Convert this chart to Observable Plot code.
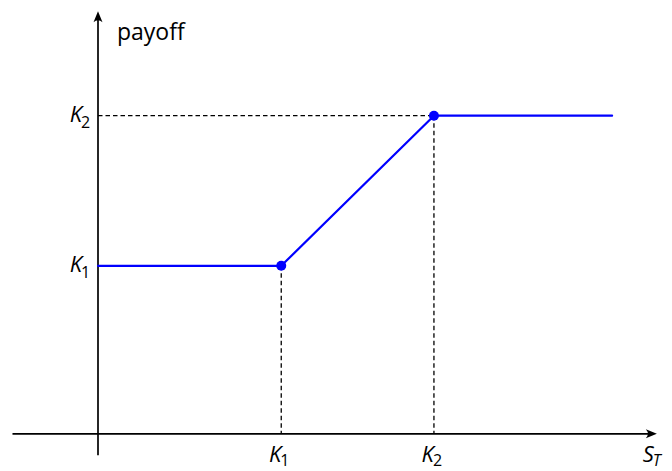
<!DOCTYPE html>
<html>
<head>
<meta charset="utf-8">
<script src="https://cdn.jsdelivr.net/npm/d3@7"></script>
<script src="https://cdn.jsdelivr.net/npm/@observablehq/plot@0.6"></script>
<style>
  html, body { margin: 0; padding: 0; background: #fff; }
</style>
</head>
<body>
<div id="chart"></div>
<script>
// ---- data ----
const sValues = [0, 36, 66, 101];          // underlying price S_T
const payoffValues = [33, 33, 62.5, 62.5]; // payoff
const strikeS = [36, 66];                  // kink positions on S_T axis
const strikePayoff = [33, 62.5];           // payoff at kinks
const strikeLabels = ["K", "K"];
const strikeSubs = ["1", "2"];
const xAxisExtent = [-16.8, 109.6];
const yAxisExtent = [-4.2, 82.8];
const xAxisLabel = ["S", "T"];
const yAxisLabel = "payoff";

const FONT = "Open Sans";
const payoffLine = sValues.map((s, i) => ({s, p: payoffValues[i]}));
const kinks = strikeS.map((s, i) => ({s, p: strikePayoff[i], k: strikeLabels[i], sub: strikeSubs[i]}));

// stealth-like filled arrow head pointing to +x, tip at origin
const arrowHead = {
  draw(ctx) {
    ctx.moveTo(1, 0);
    ctx.lineTo(-10, -4.5);
    ctx.quadraticCurveTo(-6, 0, -10, 4.5);
    ctx.closePath();
  }
};

const axes = [
  {x1: xAxisExtent[0], y1: 0, x2: xAxisExtent[1] - 1, y2: 0},
  {x1: 0, y1: yAxisExtent[0], x2: 0, y2: yAxisExtent[1] - 1}
];
const dashedV = kinks.map(d => ({x1: d.s, y1: d.p, x2: d.s, y2: 0}));
const dashedH = [{x1: 0, y1: kinks[1].p, x2: kinks[1].s, y2: kinks[1].p}];

const KS = 22, SS = 16;
const chart = Plot.plot({
  width: 672,
  height: 471,
  margin: 0,
  x: {type: "linear", domain: [0, 100], range: [97.5, 606.5], axis: null},
  y: {type: "linear", domain: [0, 100], range: [433.3, -75.7], axis: null},
  style: {fontFamily: FONT, background: "white"},
  marks: [
    Plot.link(dashedV, {x1: "x1", y1: "y1", x2: "x2", y2: "y2", stroke: "black", strokeWidth: 1.3, strokeDasharray: "4.5,3"}),
    Plot.link(dashedH, {x1: "x1", y1: "y1", x2: "x2", y2: "y2", stroke: "black", strokeWidth: 1.3, strokeDasharray: "4.5,3"}),
    Plot.link(axes, {x1: "x1", y1: "y1", x2: "x2", y2: "y2", stroke: "black", strokeWidth: 1.7}),
    Plot.dot([{x: xAxisExtent[1], y: 0}], {x: "x", y: "y", symbol: arrowHead, fill: "black", stroke: "none", r: 5}),
    Plot.dot([{x: 0, y: yAxisExtent[1]}], {x: "x", y: "y", symbol: arrowHead, rotate: -90, fill: "black", stroke: "none", r: 5}),
    Plot.line(payoffLine, {x: "s", y: "p", stroke: "#0000ff", strokeWidth: 2.2}),
    Plot.dot(kinks, {x: "s", y: "p", r: 5, fill: "#0000ff", stroke: "none"}),
    // x-axis strike labels
    Plot.text(kinks, {x: "s", y: 0, text: "k", fontStyle: "italic", fontSize: KS, textAnchor: "end", lineAnchor: "bottom", dx: 0, dy: 28, fill: "black"}),
    Plot.text(kinks, {x: "s", y: 0, text: "sub", fontSize: SS, textAnchor: "start", lineAnchor: "bottom", dx: -1, dy: 32, fill: "black"}),
    // y-axis strike labels
    Plot.text(kinks, {x: 0, y: "p", text: "k", fontStyle: "italic", fontSize: KS, textAnchor: "end", lineAnchor: "bottom", dx: -16, dy: 6, fill: "black"}),
    Plot.text(kinks, {x: 0, y: "p", text: "sub", fontSize: SS, textAnchor: "start", lineAnchor: "bottom", dx: -17, dy: 12, fill: "black"}),
    // axis titles
    Plot.text([{x: xAxisExtent[1], y: 0}], {x: "x", y: "y", text: [xAxisLabel[0]], fontStyle: "italic", fontSize: KS, textAnchor: "end", lineAnchor: "bottom", dx: -2, dy: 28, fill: "black"}),
    Plot.text([{x: xAxisExtent[1], y: 0}], {x: "x", y: "y", text: [xAxisLabel[1]], fontStyle: "italic", fontSize: SS, textAnchor: "start", lineAnchor: "bottom", dx: -3, dy: 32, fill: "black"}),
    Plot.text([{x: 0, y: yAxisExtent[1]}], {x: "x", y: "y", text: [yAxisLabel], fontSize: 23, textAnchor: "start", lineAnchor: "bottom", dx: 19, dy: 28, fill: "black"})
  ]
});
document.getElementById("chart").appendChild(chart);
</script>
</body>
</html>
